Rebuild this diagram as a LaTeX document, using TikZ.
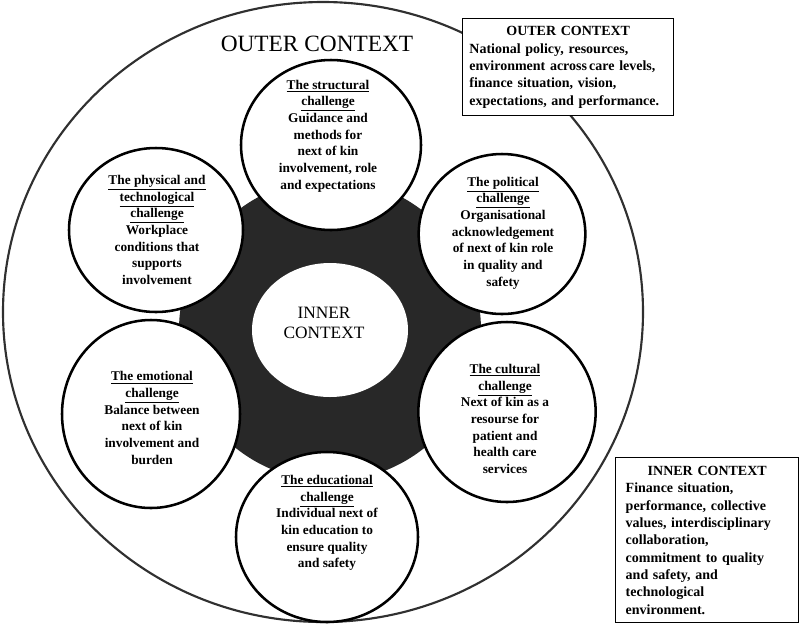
\documentclass[tikz,border=0pt]{standalone}
\usepackage{fontspec}
\setmainfont{Liberation Serif}
\usetikzlibrary{shapes.geometric}
\definecolor{darkfill}{HTML}{282828}
\definecolor{rimgray}{HTML}{303030}
\begin{document}
\begin{tikzpicture}[x=0.75pt,y=-0.75pt,
  chal/.style={ellipse, draw=black, line width=1.9pt, fill=white, inner sep=0pt},
  chaltext/.style={align=center, inner sep=0pt, font=\bfseries\fontsize{10}{12.5}\selectfont},
  infobox/.style={draw=black, line width=1.1pt, fill=white, anchor=north west, align=left,
    font=\bfseries\fontsize{10.5}{13}\selectfont},
  bigtitle/.style={inner sep=0pt, font=\fontsize{17.5}{20}\selectfont},
  innertitle/.style={align=center, inner sep=0pt, font=\fontsize{13}{15.5}\selectfont}]
\useasboundingbox (0,0) rectangle (800,626);

% outer context ellipse
\node[ellipse, draw=rimgray, line width=1.6pt, inner sep=0pt,
      minimum width=480pt, minimum height=465pt] (outer) at (323,312) {};
\node[bigtitle] (outertitle) at (317,44) {OUTER CONTEXT};

% dark ring and inner context
\node[circle, fill=darkfill, inner sep=0pt, minimum size=226.5pt] (dark) at (330,330) {};
\node[ellipse, fill=white, inner sep=0pt, minimum width=117pt, minimum height=100.5pt] (inner) at (330,330) {};
\node[innertitle] (innertitle) at (324,323) {INNER\\CONTEXT};

% six challenges
\node[chal, minimum width=135pt, minimum height=127.5pt] (structural) at (331,145) {};
\node[chal, minimum width=125pt, minimum height=120pt] (political) at (502,234) {};
\node[chal, minimum width=130.5pt, minimum height=123pt] (physical) at (156,230) {};
\node[chal, minimum width=133.5pt, minimum height=141pt] (emotional) at (151,414) {};
\node[chal, minimum width=133pt, minimum height=135pt] (cultural) at (507,412) {};
\node[chal, minimum width=136.5pt, minimum height=127.5pt] (educational) at (327,537) {};

\node[chaltext] (tstructural) at (328,136) {\underline{The structural}\\\underline{challenge}\\Guidance and\\methods for\\next of kin\\involvement, role\\and expectations};
\node[chaltext] (tpolitical) at (503,233) {\underline{The political}\\\underline{challenge}\\Organisational\\acknowledgement\\of next of kin role\\in quality and\\safety};
\node[chaltext] (tphysical) at (157,230) {\underline{The physical and}\\\underline{technological}\\\underline{challenge}\\Workplace\\conditions that\\supports\\involvement};
\node[chaltext] (temotional) at (152,418) {\underline{The emotional}\\\underline{challenge}\\Balance between\\next of kin\\involvement and\\burden};
\node[chaltext] (tcultural) at (505,419) {\underline{The cultural}\\\underline{challenge}\\Next of kin as a\\resourse for\\patient and\\health care\\services};
\node[chaltext] (teducational) at (327,523) {\underline{The educational}\\\underline{challenge}\\Individual next of\\kin education to\\ensure quality\\and safety};

% information boxes
\node[infobox, text width=148.25pt, minimum height=72.75pt, inner xsep=5pt, inner ysep=4pt] (outerbox) at (462,18)
  {\makebox[\linewidth]{OUTER CONTEXT}\\National policy, resources,\\environment across\hspace{0.15em}care levels,\\finance situation, vision,\\\mbox{expectations, and performance.}};
\node[infobox, text width=122.25pt, minimum height=123.75pt, inner xsep=7.5pt, inner ysep=4pt] (innerbox) at (615,457)
  {\makebox[\linewidth]{INNER CONTEXT}\\Finance situation,\\performance, collective\\values, interdisciplinary\\collaboration,\\commitment to quality\\and safety, and\\technological\\environment.};
\end{tikzpicture}
\end{document}
